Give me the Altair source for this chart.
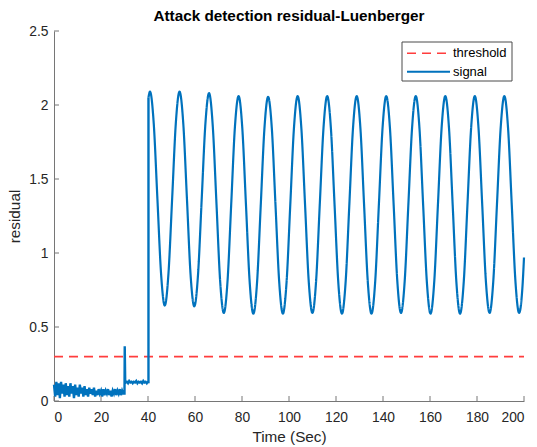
import altair as alt
import pandas as pd

# ---- early transient: noisy residual, spike at the attack onset, plateau ----
transient_t = [
    0.0, 0.5, 1.0, 1.5, 2.0, 2.5, 3.0, 3.5, 4.0, 4.5,
    5.0, 5.5, 6.0, 6.5, 7.0, 7.5, 8.0, 8.5, 9.0, 9.5,
    10.0, 10.5, 11.0, 11.5, 12.0, 12.5, 13.0, 13.5, 14.0, 14.5,
    15.0, 15.5, 16.0, 16.5, 17.0, 17.5, 18.0, 18.5, 19.0, 19.5,
    20.0, 20.5, 21.0, 21.5, 22.0, 22.5, 23.0, 23.5, 24.0, 24.5,
    25.0, 25.5, 26.0, 26.5, 27.0, 27.5, 28.0, 28.5, 29.0, 29.5,
    30.0, 30.1, 30.3,
    30.5, 31.0, 31.5, 32.0, 32.5, 33.0, 33.5, 34.0, 34.5, 35.0,
    35.5, 36.0, 36.5, 37.0, 37.5, 38.0, 38.5, 39.0, 39.5, 40.0,
    40.2, 40.2,
]
transient_v = [
    0.11, 0.03, 0.13, 0.04, 0.12, 0.02, 0.13, 0.05, 0.11, 0.03,
    0.12, 0.04, 0.10, 0.03, 0.12, 0.05, 0.10, 0.02, 0.11, 0.04,
    0.09, 0.03, 0.11, 0.05, 0.09, 0.03, 0.10, 0.04, 0.08, 0.03,
    0.09, 0.05, 0.08, 0.04, 0.09, 0.03, 0.07, 0.04, 0.08, 0.05,
    0.07, 0.03, 0.08, 0.04, 0.07, 0.05, 0.08, 0.04, 0.07, 0.03,
    0.07, 0.05, 0.08, 0.04, 0.07, 0.05, 0.08, 0.04, 0.07, 0.05,
    0.05, 0.37, 0.13,
    0.125, 0.13, 0.12, 0.135, 0.125, 0.13, 0.12, 0.13, 0.125, 0.135,
    0.12, 0.13, 0.125, 0.13, 0.12, 0.135, 0.125, 0.13, 0.12, 0.13,
    0.12, 2.05,
]

# ---- sustained oscillation after t = 40 s ----
osc_t = [
    40.2, 40.85, 42.42, 43.99, 45.56, 47.13, 48.70, 50.28, 51.85,
    53.42, 54.99, 56.56, 58.13, 59.70, 61.27, 62.84, 64.41,
    65.98, 67.55, 69.12, 70.70, 72.27, 73.84, 75.41, 76.98,
    78.55, 80.12, 81.69, 83.26, 84.83, 86.40, 87.97, 89.54,
    91.11, 92.68, 94.25, 95.83, 97.40, 98.97, 100.54, 102.11,
    103.68, 105.25, 106.82, 108.39, 109.96, 111.53, 113.10, 114.68,
    116.25, 117.82, 119.39, 120.96, 122.53, 124.10, 125.67, 127.24,
    128.81, 130.38, 131.95, 133.53, 135.10, 136.67, 138.24, 139.81,
    141.38, 142.95, 144.52, 146.09, 147.66, 149.23, 150.80, 152.37,
    153.94, 155.51, 157.08, 158.66, 160.23, 161.80, 163.37, 164.94,
    166.51, 168.08, 169.65, 171.22, 172.79, 174.36, 175.93, 177.50,
    179.07, 180.64, 182.21, 183.78, 185.36, 186.93, 188.50, 190.07,
    191.64, 193.21, 194.78, 196.35, 197.92, 199.49, 200.0,
]
osc_v = [
    2.05, 2.09, 1.88, 1.37, 0.86, 0.645, 0.86, 1.37, 1.88,
    2.09, 1.88, 1.37, 0.85, 0.64, 0.85, 1.36, 1.87,
    2.08, 1.86, 1.34, 0.81, 0.595, 0.81, 1.33, 1.85,
    2.06, 1.845, 1.325, 0.805, 0.59, 0.80, 1.32, 1.84,
    2.055, 1.845, 1.325, 0.805, 0.59, 0.805, 1.325, 1.845,
    2.06, 1.845, 1.33, 0.81, 0.595, 0.81, 1.33, 1.845,
    2.06, 1.845, 1.325, 0.805, 0.59, 0.805, 1.325, 1.845,
    2.06, 1.845, 1.325, 0.805, 0.59, 0.805, 1.325, 1.845,
    2.06, 1.845, 1.33, 0.81, 0.595, 0.81, 1.33, 1.845,
    2.06, 1.845, 1.325, 0.805, 0.59, 0.805, 1.325, 1.845,
    2.06, 1.845, 1.325, 0.805, 0.59, 0.805, 1.325, 1.845,
    2.06, 1.845, 1.33, 0.81, 0.595, 0.81, 1.33, 1.845,
    2.06, 1.845, 1.33, 0.81, 0.595, 0.81, 0.97,
]

threshold_t = [0.0, 200.0]
threshold_v = [0.3, 0.3]

x_ticks = [0, 20, 40, 60, 80, 100, 120, 140, 160, 180, 200]
y_ticks = [0, 0.5, 1, 1.5, 2, 2.5]

series_names = ["threshold", "signal"]
series_colors = ["#FF3D3D", "#0072BD"]
series_dash = [[9, 6], [1, 0]]

PLOT_W, PLOT_H = 470, 370
FONT = "Liberation Sans"
AXIS_GREY = "#767676"
TEXT_GREY = "#262626"

lin_df = pd.DataFrame({"t": transient_t, "v": transient_v, "series": "signal",
                       "i": range(len(transient_t))})
osc_df = pd.DataFrame({"t": osc_t, "v": osc_v, "series": "signal",
                       "i": range(len(osc_t))})
thr_df = pd.DataFrame({"t": threshold_t, "v": threshold_v, "series": "threshold",
                       "i": range(len(threshold_t))})

x_enc = alt.X("t:Q", scale=alt.Scale(domain=[0, 200], nice=False, zero=False),
              axis=alt.Axis(values=x_ticks, title="Time (Sec)", ticks=False,
                            tickSize=0, labelPadding=9, titlePadding=6,
                            grid=False))
y_enc = alt.Y("v:Q", scale=alt.Scale(domain=[0, 2.5], nice=False),
              axis=alt.Axis(values=y_ticks, title="residual", format="~g",
                            ticks=False, tickSize=0, labelPadding=6,
                            titlePadding=6, grid=False))
color_enc = alt.Color("series:N", scale=alt.Scale(domain=series_names,
                                                  range=series_colors),
                      legend=None)
dash_enc = alt.StrokeDash("series:N", scale=alt.Scale(domain=series_names,
                                                      range=series_dash),
                          legend=None)

threshold = alt.Chart(thr_df).mark_line(strokeWidth=1.6).encode(
    x=x_enc, y=y_enc, color=color_enc, strokeDash=dash_enc, order="i:Q")

transient = alt.Chart(lin_df).mark_line(strokeWidth=2.4).encode(
    x=x_enc, y=y_enc, color=color_enc, strokeDash=dash_enc, order="i:Q")

oscillation = alt.Chart(osc_df).mark_line(strokeWidth=2.2, interpolate="monotone").encode(
    x=x_enc, y=y_enc, color=color_enc, strokeDash=dash_enc, order="i:Q")

# inward-pointing tick marks
xtick_df = pd.DataFrame({"t": x_ticks})
ytick_df = pd.DataFrame({"v": y_ticks})
x_tick_marks = alt.Chart(xtick_df).mark_rule(color=AXIS_GREY, strokeWidth=1).encode(
    x=x_enc, y=alt.value(PLOT_H), y2=alt.value(PLOT_H - 5))
y_tick_marks = alt.Chart(ytick_df).mark_rule(color=AXIS_GREY, strokeWidth=1).encode(
    y=y_enc, x=alt.value(0), x2=alt.value(5))

# legend box in the upper-right corner of the plot area
LEG_X0, LEG_X1, LEG_Y0, LEG_Y1 = 348, 458, 11, 50
legend_rows = [22.3, 40.7]
legend_layers = [
    alt.Chart(pd.DataFrame({"series": ["box"]})).mark_rect(
        fill="white", stroke="#4a4a4a", strokeWidth=1).encode(
        x=alt.value(LEG_X0), x2=alt.value(LEG_X1),
        y=alt.value(LEG_Y0), y2=alt.value(LEG_Y1))
]
for name, col, dash, row in zip(series_names, series_colors, series_dash, legend_rows):
    entry = pd.DataFrame({"series": [name]})
    legend_layers.append(
        alt.Chart(entry).mark_rule(color=col, strokeDash=dash,
                                   strokeWidth=2 if name == "signal" else 1.6).encode(
            x=alt.value(353), x2=alt.value(396), y=alt.value(row)))
    legend_layers.append(
        alt.Chart(entry).mark_text(align="left", baseline="middle", font=FONT,
                                   fontSize=13, color="#000000").encode(
            x=alt.value(399), y=alt.value(row), text="series:N"))

chart = alt.layer(threshold, transient, oscillation, x_tick_marks, y_tick_marks,
                  *legend_layers).properties(
    width=PLOT_W, height=PLOT_H,
    background="white",
    title=alt.TitleParams("Attack detection residual-Luenberger", font=FONT,
                          fontSize=15.3, fontWeight="bold", color="#000000",
                          anchor="middle", offset=0),
    autosize=alt.AutoSizeParams(type="none"),
    padding={"left": 54, "top": 31, "right": 13, "bottom": 46},
).configure_view(stroke=None).configure_axis(
    domainColor=AXIS_GREY, domainWidth=1,
    labelFont=FONT, labelFontSize=13.8, labelColor=TEXT_GREY,
    titleFont=FONT, titleFontSize=15.3, titleFontWeight="normal",
    titleColor=TEXT_GREY,
)

chart.save("out.html", embed_options={"renderer": "svg", "actions": False})
